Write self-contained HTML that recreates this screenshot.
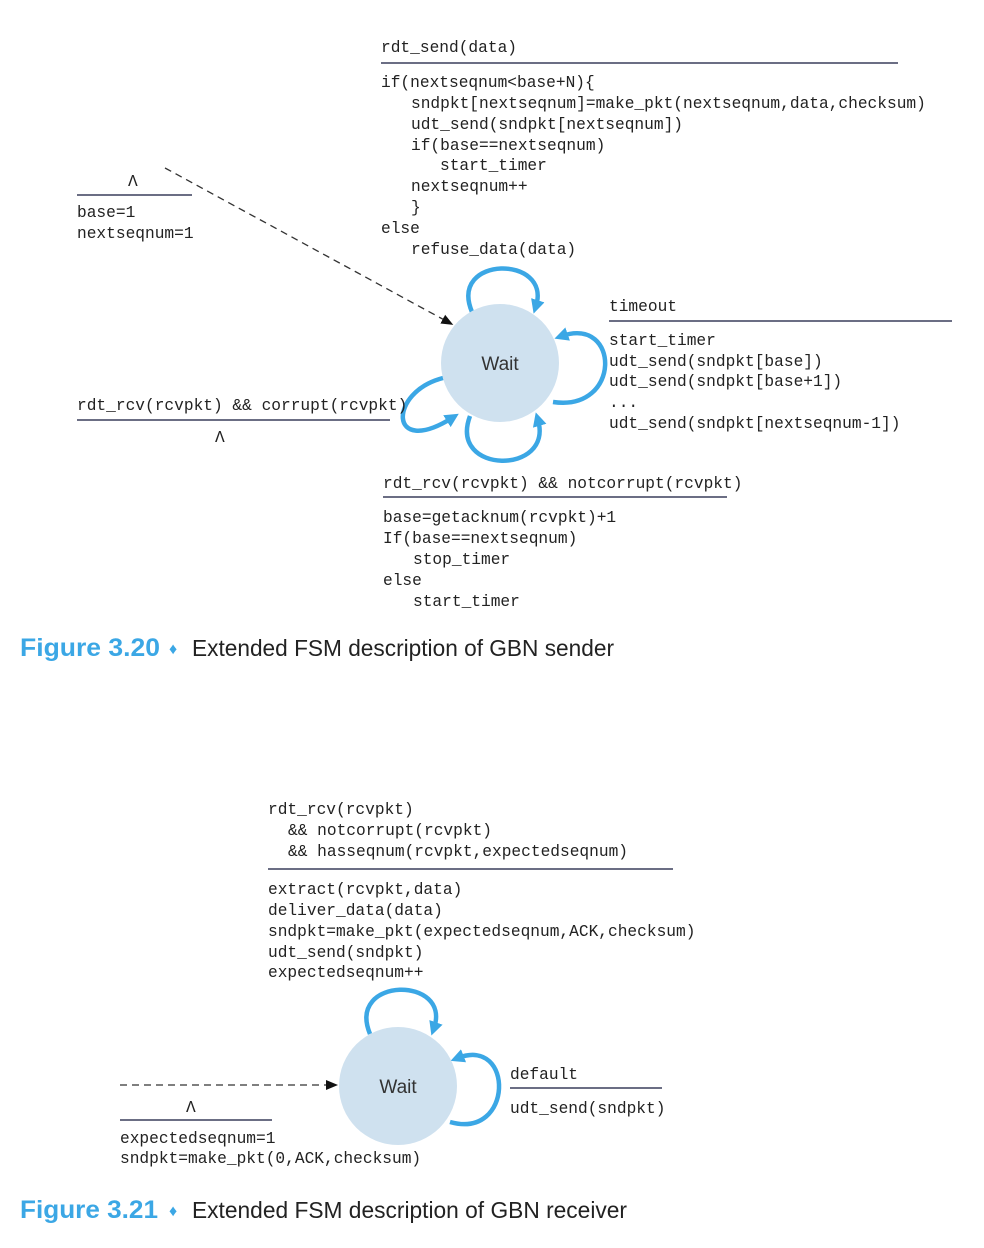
<!DOCTYPE html>
<html><head><meta charset="utf-8"><style>
html,body{margin:0;padding:0;background:#fff}
svg{display:block}
.m{font-family:"Liberation Mono",monospace;font-size:16.2px;fill:#222}
.cap{font-family:"Liberation Sans",sans-serif;font-size:23px}
</style></head><body>
<svg width="984" height="1248" viewBox="0 0 984 1248" xmlns="http://www.w3.org/2000/svg">
<defs>
<marker id="ab" markerWidth="14" markerHeight="14" refX="6" refY="7" orient="auto" markerUnits="userSpaceOnUse">
<path d="M0,0 L14,7 L0,14 z" fill="#3ba7e5"/></marker>
<marker id="ak" markerWidth="12" markerHeight="12" refX="6" refY="6" orient="auto" markerUnits="userSpaceOnUse">
<path d="M0,1 L12,6 L0,11 z" fill="#111"/></marker>
</defs>
<g fill="none" stroke="#3ba7e5" stroke-width="4.5">
<path d="M472,312 C448,255 552,255 536,306" marker-end="url(#ab)"/>
<path d="M553,402 C622,412 620,316 562,336" marker-end="url(#ab)"/>
<path d="M470,416 C448,475 554,475 538,420" marker-end="url(#ab)"/>
<path d="M443,378 C388,392 388,458 452,418" marker-end="url(#ab)"/>
<path d="M370,1034 C346,976 452,976 434,1028" marker-end="url(#ab)"/>
<path d="M450,1122 C514,1140 514,1036 458,1058" marker-end="url(#ab)"/>
</g>
<circle cx="500" cy="363" r="59" fill="#cfe1ef"/>
<circle cx="398" cy="1086" r="59" fill="#cfe1ef"/>
<text x="500" y="370" text-anchor="middle" font-family="Liberation Sans,sans-serif" font-size="19" fill="#333">Wait</text>
<text x="398" y="1093" text-anchor="middle" font-family="Liberation Sans,sans-serif" font-size="19" fill="#333">Wait</text>
<path d="M165,168 L448,322" stroke="#333" stroke-width="1.3" stroke-dasharray="7,5" fill="none" marker-end="url(#ak)"/>
<path d="M120,1085 L332,1085" stroke="#333" stroke-width="1.3" stroke-dasharray="7,5" fill="none" marker-end="url(#ak)"/>
<g stroke="#3a3f5c" stroke-width="1.5">
<line x1="381" y1="63" x2="898" y2="63"/>
<line x1="77" y1="195" x2="192" y2="195"/>
<line x1="609" y1="321" x2="952" y2="321"/>
<line x1="77" y1="420" x2="390" y2="420"/>
<line x1="383" y1="497" x2="727" y2="497"/>
<line x1="268" y1="869" x2="673" y2="869"/>
<line x1="510" y1="1088" x2="662" y2="1088"/>
<line x1="120" y1="1120" x2="272" y2="1120"/>
</g>
<g class="m">
<text x="381" y="52">rdt_send(data)</text>
<text x="381" y="87">if(nextseqnum&lt;base+N){</text>
<text x="411" y="108">sndpkt[nextseqnum]=make_pkt(nextseqnum,data,checksum)</text>
<text x="411" y="129">udt_send(sndpkt[nextseqnum])</text>
<text x="411" y="150">if(base==nextseqnum)</text>
<text x="440" y="170">start_timer</text>
<text x="411" y="191">nextseqnum++</text>
<text x="411" y="212">}</text>
<text x="381" y="233">else</text>
<text x="411" y="254">refuse_data(data)</text>
<text x="128" y="186">Λ</text>
<text x="77" y="217">base=1</text>
<text x="77" y="238">nextseqnum=1</text>
<text x="609" y="311">timeout</text>
<text x="609" y="345">start_timer</text>
<text x="609" y="366">udt_send(sndpkt[base])</text>
<text x="609" y="386">udt_send(sndpkt[base+1])</text>
<text x="609" y="407">...</text>
<text x="609" y="428">udt_send(sndpkt[nextseqnum-1])</text>
<text x="77" y="410">rdt_rcv(rcvpkt) &amp;&amp; corrupt(rcvpkt)</text>
<text x="215" y="442">Λ</text>
<text x="383" y="488">rdt_rcv(rcvpkt) &amp;&amp; notcorrupt(rcvpkt)</text>
<text x="383" y="522">base=getacknum(rcvpkt)+1</text>
<text x="383" y="543">If(base==nextseqnum)</text>
<text x="413" y="564">stop_timer</text>
<text x="383" y="585">else</text>
<text x="413" y="606">start_timer</text>
<text x="268" y="814">rdt_rcv(rcvpkt)</text>
<text x="288" y="835">&amp;&amp; notcorrupt(rcvpkt)</text>
<text x="288" y="856">&amp;&amp; hasseqnum(rcvpkt,expectedseqnum)</text>
<text x="268" y="894">extract(rcvpkt,data)</text>
<text x="268" y="915">deliver_data(data)</text>
<text x="268" y="936">sndpkt=make_pkt(expectedseqnum,ACK,checksum)</text>
<text x="268" y="957">udt_send(sndpkt)</text>
<text x="268" y="977">expectedseqnum++</text>
<text x="510" y="1079">default</text>
<text x="510" y="1113">udt_send(sndpkt)</text>
<text x="186" y="1112">Λ</text>
<text x="120" y="1143">expectedseqnum=1</text>
<text x="120" y="1163">sndpkt=make_pkt(0,ACK,checksum)</text>
</g>
<g class="cap">
<text x="20" y="656" fill="#3ba7e5" font-weight="bold" font-size="25" textLength="140" lengthAdjust="spacingAndGlyphs">Figure 3.20</text>
<text x="169" y="654" fill="#3ba7e5" font-size="16">♦</text>
<text x="192" y="656" fill="#222" textLength="422" lengthAdjust="spacingAndGlyphs">Extended FSM description of GBN sender</text>
<text x="20" y="1218" fill="#3ba7e5" font-weight="bold" font-size="25" textLength="138" lengthAdjust="spacingAndGlyphs">Figure 3.21</text>
<text x="169" y="1216" fill="#3ba7e5" font-size="16">♦</text>
<text x="192" y="1218" fill="#222" textLength="435" lengthAdjust="spacingAndGlyphs">Extended FSM description of GBN receiver</text>
</g>
</svg>
</body></html>
